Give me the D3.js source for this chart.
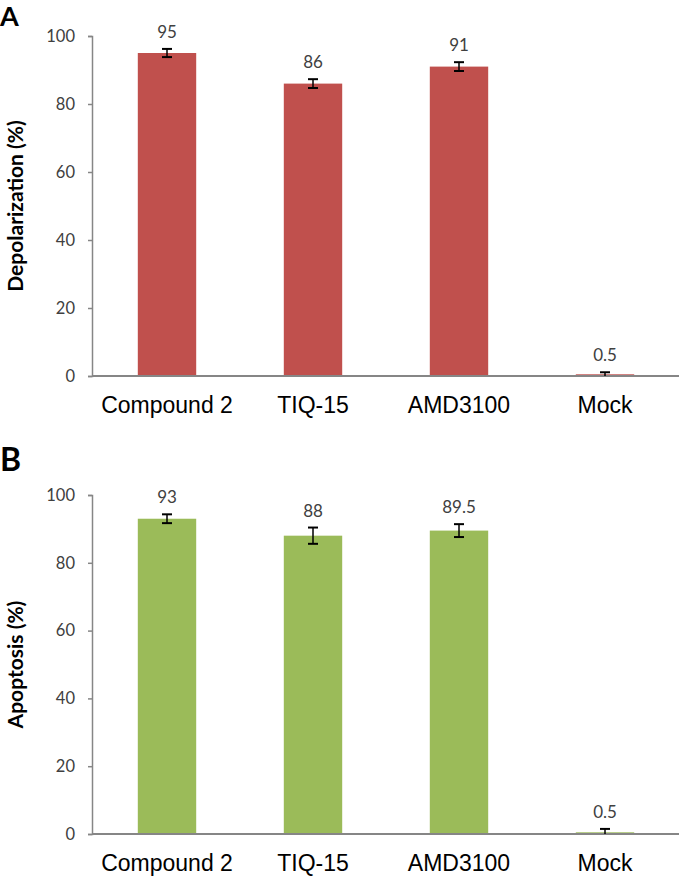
<!DOCTYPE html>
<html>
<head>
<meta charset="utf-8">
<script src="https://cdn.jsdelivr.net/npm/d3@7"></script>
<style>
  html, body { margin: 0; padding: 0; background: #fff; }
  svg { display: block; }
</style>
</head>
<body>
<svg id="chart" width="679" height="876"></svg>
<script>
const categories = ["Compound 2", "TIQ-15", "AMD3100", "Mock"];
const depolValues = [95, 86, 91, 0.5];
const depolErrors = [1.2, 1.3, 1.3, 0.6];
const depolLabels = ["95", "86", "91", "0.5"];
const apopValues = [93, 88, 89.5, 0.5];
const apopErrors = [1.3, 2.4, 1.9, 1.0];
const apopLabels = ["93", "88", "89.5", "0.5"];
const yTicks = [0, 20, 40, 60, 80, 100];

const svg = d3.select("#chart");

function panel(opts) {
  const g = svg.append("g");
  const x = d3.scaleBand().domain(categories).range([94, 678])
    .paddingInner(0.6).paddingOuter(0.3);
  const y = d3.scaleLinear().domain([0, 100]).range([opts.y0, opts.y100]);

  // panel letter
  g.append("text").attr("x", 0).attr("y", opts.letterY)
    .attr("font-family", "Lato, 'Open Sans', sans-serif").attr("font-weight", "bold")
    .attr("font-size", opts.letterSize).attr("fill", "#000").text(opts.letter);

  // bars
  g.selectAll("rect.bar").data(opts.values).enter().append("rect")
    .attr("class", "bar")
    .attr("x", (d, i) => x(categories[i]))
    .attr("width", x.bandwidth())
    .attr("y", d => y(d))
    .attr("height", d => y(0) - y(d))
    .attr("fill", opts.color);

  // y axis
  const yAxis = d3.axisLeft(y).tickValues(yTicks).tickSize(4).tickPadding(13).tickFormat(d3.format("d"));
  const ya = g.append("g").attr("transform", "translate(92,0)").call(yAxis);
  ya.select(".domain").attr("stroke", "#868686").attr("stroke-width", 1.5);
  ya.selectAll(".tick line").attr("stroke", "#868686").attr("stroke-width", 1.5);
  ya.selectAll(".tick text").attr("font-family", "Lato, 'Open Sans', sans-serif")
    .attr("font-size", 16.5).attr("fill", "#404040");

  // x axis line
  const xAxis = d3.axisBottom(x).tickSize(0).tickPadding(20);
  const xa = g.append("g").attr("transform", `translate(0,${y(0)})`).call(xAxis);
  xa.select(".domain").attr("d", `M92,0H679`).attr("stroke", "#868686").attr("stroke-width", 2);
  xa.selectAll(".tick text").attr("font-family", "'Liberation Sans', Arial, sans-serif")
    .attr("font-size", 23).attr("fill", "#000").attr("dy", "0.72em");

  // error bars
  const eb = g.selectAll("g.err").data(opts.values).enter().append("g").attr("class", "err");
  eb.append("line")
    .attr("x1", (d, i) => x(categories[i]) + x.bandwidth() / 2)
    .attr("x2", (d, i) => x(categories[i]) + x.bandwidth() / 2)
    .attr("y1", (d, i) => y(Math.max(0, d - opts.errors[i])))
    .attr("y2", (d, i) => y(d + opts.errors[i]))
    .attr("stroke", "#000").attr("stroke-width", 1.5);
  eb.append("line")
    .attr("x1", (d, i) => x(categories[i]) + x.bandwidth() / 2 - 5)
    .attr("x2", (d, i) => x(categories[i]) + x.bandwidth() / 2 + 5)
    .attr("y1", (d, i) => y(d + opts.errors[i]))
    .attr("y2", (d, i) => y(d + opts.errors[i]))
    .attr("stroke", "#000").attr("stroke-width", 2);
  eb.filter(d => d > 2).append("line")
    .attr("x1", (d, i) => x(categories[i]) + x.bandwidth() / 2 - 5)
    .attr("x2", (d, i) => x(categories[i]) + x.bandwidth() / 2 + 5)
    .attr("y1", (d, i) => y(d - opts.errors[i]))
    .attr("y2", (d, i) => y(d - opts.errors[i]))
    .attr("stroke", "#000").attr("stroke-width", 2);

  // value labels
  g.selectAll("text.val").data(opts.values).enter().append("text")
    .attr("class", "val")
    .attr("x", (d, i) => x(categories[i]) + x.bandwidth() / 2)
    .attr("y", (d, i) => y(d + opts.errors[i]) - 11)
    .attr("text-anchor", "middle")
    .attr("font-family", "Lato, 'Open Sans', sans-serif")
    .attr("font-size", 17).attr("fill", "#404040")
    .text((d, i) => opts.labels[i]);

  // y title
  g.append("text")
    .attr("transform", `translate(23,${(y(0) + y(100)) / 2}) rotate(-90)`)
    .attr("text-anchor", "middle")
    .attr("font-family", "Lato, 'Open Sans', sans-serif").attr("font-weight", "bold")
    .attr("font-size", 21).attr("fill", "#000")
    .text(opts.title);
}

panel({ letter: "A", letterY: 26, letterSize: 27, y0: 376, y100: 36,
  values: depolValues, errors: depolErrors, labels: depolLabels,
  color: "#C0504D", title: "Depolarization (%)" });
panel({ letter: "B", letterY: 471, letterSize: 32, y0: 834, y100: 495,
  values: apopValues, errors: apopErrors, labels: apopLabels,
  color: "#9BBB59", title: "Apoptosis (%)" });
</script>
</body>
</html>
